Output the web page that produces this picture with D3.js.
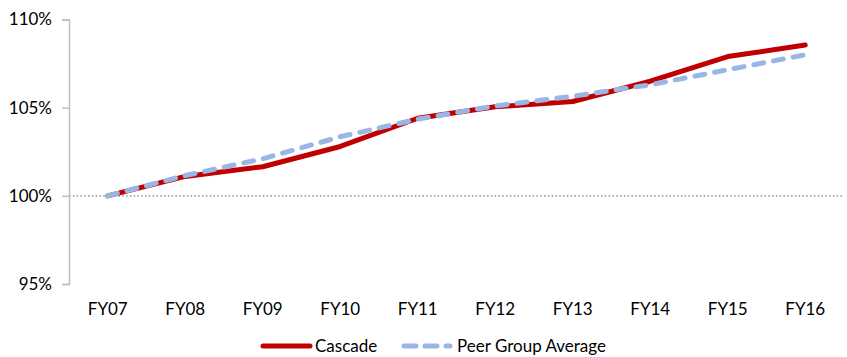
<!DOCTYPE html>
<html><head><meta charset="utf-8">
<script src="https://cdn.jsdelivr.net/npm/d3@7"></script>
<style>body{margin:0;background:#fff}svg{display:block}text{font-family:Lato,"Noto Sans",sans-serif;fill:#000}</style>
</head><body>
<svg id="c" width="847" height="357"></svg>
<script>
const categories = ["FY07","FY08","FY09","FY10","FY11","FY12","FY13","FY14","FY15","FY16"];
const cascade = [100, 101.1, 101.65, 102.8, 104.4, 105.05, 105.35, 106.5, 107.9, 108.55];
const peerAvg = [100, 101.15, 102.1, 103.35, 104.35, 105.1, 105.65, 106.3, 107.15, 108.0];
const yTicks = [95, 100, 105, 110];
const seriesNames = ["Cascade", "Peer Group Average"];

const svg = d3.select("#c");
const x = d3.scaleBand().domain(categories).range([69, 844]);
const y = d3.scaleLinear().domain([95, 110]).range([284, 19.5]);
const fs = 17;

// 100% reference gridline (dotted)
svg.append("line").attr("x1", 69).attr("x2", 844)
  .attr("y1", y(100)).attr("y2", y(100))
  .attr("stroke", "#A6A6A6").attr("stroke-width", 1.6).attr("stroke-dasharray", "1.6,2.2");

// y axis
const yAxis = d3.axisLeft(y).tickValues(yTicks).tickSize(7).tickPadding(10).tickFormat(d => d + "%");
const gy = svg.append("g").attr("transform", "translate(69,0)").call(yAxis);
gy.select(".domain").attr("stroke", "#BFBFBF").attr("stroke-width", 1.5);
gy.selectAll(".tick line").attr("stroke", "#BFBFBF").attr("stroke-width", 1.5);
gy.selectAll(".tick text").attr("font-size", fs).attr("fill", "#000").style("font-family", "Lato");

// x axis labels
const xAxis = d3.axisBottom(x).tickSize(0).tickPadding(0);
const gx = svg.append("g").attr("transform", "translate(0,298)").call(xAxis);
gx.select(".domain").remove();
gx.selectAll(".tick text").attr("font-size", fs).attr("fill", "#000").attr("dy", "1em").style("font-family", "Lato");

const cx = d => x(d) + x.bandwidth() / 2;
const line = d3.line().x((d, i) => cx(categories[i])).y(d => y(d));

svg.append("path").datum(cascade).attr("d", line)
  .attr("fill", "none").attr("stroke", "#C00000").attr("stroke-width", 5)
  .attr("stroke-linejoin", "round").attr("stroke-linecap", "round");
svg.append("path").datum(peerAvg).attr("d", line)
  .attr("fill", "none").attr("stroke", "#9AB6E4").attr("stroke-width", 5)
  .attr("stroke-linejoin", "round").attr("stroke-linecap", "round")
  .attr("stroke-dasharray", "10,10");

// legend
const lg = svg.append("g");
lg.append("line").attr("x1", 263).attr("x2", 310).attr("y1", 346).attr("y2", 346)
  .attr("stroke", "#C00000").attr("stroke-width", 5).attr("stroke-linecap", "round");
lg.append("text").attr("x", 315).attr("y", 346).attr("dy", "0.35em").attr("font-size", fs).text(seriesNames[0]);
lg.append("line").attr("x1", 404).attr("x2", 450).attr("y1", 346).attr("y2", 346)
  .attr("stroke", "#9AB6E4").attr("stroke-width", 5).attr("stroke-linecap", "round")
  .attr("stroke-dasharray", "12,9");
lg.append("text").attr("x", 457).attr("y", 346).attr("dy", "0.35em").attr("font-size", fs).text(seriesNames[1]);
</script>
</body></html>
